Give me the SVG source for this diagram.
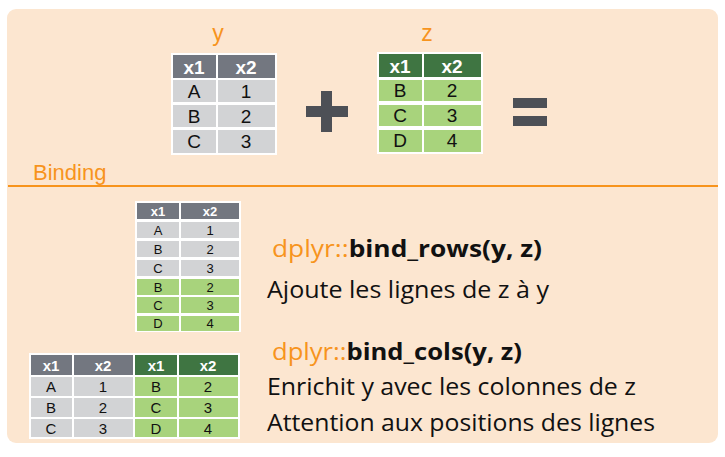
<svg xmlns="http://www.w3.org/2000/svg" width="725" height="457" viewBox="0 0 725 457">
<style>
.h{fill:#737780}.hg{fill:#3f7542}.c{fill:#d2d3d5}.g{fill:#a8d37c}
.t{font-family:"Liberation Sans",Arial,sans-serif;text-anchor:middle;fill:#111}
.tb{font-family:"Liberation Sans",Arial,sans-serif;text-anchor:middle;fill:#fff;font-weight:bold}
.o{font-family:"Liberation Sans",Arial,sans-serif;fill:#f7941d}
.s{font-family:"Open Sans","Liberation Sans",sans-serif;font-size:23px;fill:#111}
</style>
<rect width="725" height="457" fill="#fff"/>
<rect x="7" y="9" width="711" height="434" rx="9" fill="#fce6d0"/>
<line x1="8" y1="186" x2="718" y2="186" stroke="#f7941d" stroke-width="2"/>
<text class="o" x="218" y="41" font-size="23" text-anchor="middle">y</text>
<text class="o" x="427" y="41" font-size="23" text-anchor="middle">z</text>
<text class="o" x="33" y="180" font-size="22">Binding</text>
<g id="table-y">
<rect x="171" y="53" width="106" height="102" fill="#fff"/>
<rect class="h" x="173" y="55" width="43" height="23"/><rect class="h" x="218" y="55" width="57" height="23"/>
<rect class="c" x="173" y="80" width="43" height="22"/><rect class="c" x="218" y="80" width="57" height="22"/>
<rect class="c" x="173" y="105" width="43" height="22"/><rect class="c" x="218" y="105" width="57" height="22"/>
<rect class="c" x="173" y="130" width="43" height="23"/><rect class="c" x="218" y="130" width="57" height="23"/>
<g font-size="19"><text class="tb" x="194" y="74">x1</text><text class="tb" x="246" y="74">x2</text>
<text class="t" x="194" y="98">A</text><text class="t" x="246" y="98">1</text>
<text class="t" x="194" y="123">B</text><text class="t" x="246" y="123">2</text>
<text class="t" x="194" y="148">C</text><text class="t" x="246" y="148">3</text></g>
</g>
<g id="table-z">
<rect x="377" y="52" width="106" height="102" fill="#fff"/>
<rect class="hg" x="379" y="54" width="43" height="23"/><rect class="hg" x="424" y="54" width="57" height="23"/>
<rect class="g" x="379" y="80" width="43" height="21"/><rect class="g" x="424" y="80" width="57" height="21"/>
<rect class="g" x="379" y="105" width="43" height="21"/><rect class="g" x="424" y="105" width="57" height="21"/>
<rect class="g" x="379" y="130" width="43" height="22"/><rect class="g" x="424" y="130" width="57" height="22"/>
<g font-size="19"><text class="tb" x="400" y="73">x1</text><text class="tb" x="452" y="73">x2</text>
<text class="t" x="400" y="97">B</text><text class="t" x="452" y="97">2</text>
<text class="t" x="400" y="122">C</text><text class="t" x="452" y="122">3</text>
<text class="t" x="400" y="147">D</text><text class="t" x="452" y="147">4</text></g>
</g>
<g id="plus" fill="#4d5056"><rect x="306" y="106" width="42" height="11"/><rect x="321" y="91" width="11" height="41"/></g>
<g id="equals" fill="#4d5056"><rect x="513" y="98" width="34" height="10"/><rect x="513" y="116" width="34" height="10"/></g>
<g id="bind-rows-table" font-size="13">
<rect x="135" y="201" width="106" height="131" fill="#fff"/>
<rect class="h" x="137" y="203" width="42" height="16"/><rect class="h" x="181" y="203" width="58" height="16"/>
<rect class="c" x="137" y="222" width="42" height="16"/><rect class="c" x="181" y="222" width="58" height="16"/>
<rect class="c" x="137" y="241" width="42" height="16"/><rect class="c" x="181" y="241" width="58" height="16"/>
<rect class="c" x="137" y="260" width="42" height="16"/><rect class="c" x="181" y="260" width="58" height="16"/>
<rect class="g" x="137" y="279" width="42" height="16"/><rect class="g" x="181" y="279" width="58" height="16"/>
<rect class="g" x="137" y="297" width="42" height="16"/><rect class="g" x="181" y="297" width="58" height="16"/>
<rect class="g" x="137" y="316" width="42" height="15"/><rect class="g" x="181" y="316" width="58" height="15"/>
<text class="tb" x="158" y="216">x1</text><text class="tb" x="210" y="216">x2</text>
<text class="t" x="158" y="235">A</text><text class="t" x="210" y="235">1</text>
<text class="t" x="158" y="254">B</text><text class="t" x="210" y="254">2</text>
<text class="t" x="158" y="273">C</text><text class="t" x="210" y="273">3</text>
<text class="t" x="158" y="292">B</text><text class="t" x="210" y="292">2</text>
<text class="t" x="158" y="310">C</text><text class="t" x="210" y="310">3</text>
<text class="t" x="158" y="328">D</text><text class="t" x="210" y="328">4</text>
</g>
<g id="bind-cols-table" font-size="15">
<rect x="29" y="353" width="211" height="86" fill="#fff"/>
<rect class="h" x="31" y="355" width="41" height="20"/><rect class="h" x="74" y="355" width="59" height="20"/>
<rect class="hg" x="135" y="355" width="42" height="20"/><rect class="hg" x="179" y="355" width="59" height="20"/>
<rect class="c" x="31" y="377" width="41" height="19"/><rect class="c" x="74" y="377" width="59" height="19"/>
<rect class="g" x="135" y="377" width="42" height="19"/><rect class="g" x="179" y="377" width="59" height="19"/>
<rect class="c" x="31" y="398" width="41" height="19"/><rect class="c" x="74" y="398" width="59" height="19"/>
<rect class="g" x="135" y="398" width="42" height="19"/><rect class="g" x="179" y="398" width="59" height="19"/>
<rect class="c" x="31" y="419" width="41" height="18"/><rect class="c" x="74" y="419" width="59" height="18"/>
<rect class="g" x="135" y="419" width="42" height="18"/><rect class="g" x="179" y="419" width="59" height="18"/>
<text class="tb" x="51" y="371">x1</text><text class="tb" x="103" y="371">x2</text><text class="tb" x="156" y="371">x1</text><text class="tb" x="208" y="371">x2</text>
<text class="t" x="51" y="392">A</text><text class="t" x="103" y="392">1</text><text class="t" x="156" y="392">B</text><text class="t" x="208" y="392">2</text>
<text class="t" x="51" y="413">B</text><text class="t" x="103" y="413">2</text><text class="t" x="156" y="413">C</text><text class="t" x="208" y="413">3</text>
<text class="t" x="51" y="434">C</text><text class="t" x="103" y="434">3</text><text class="t" x="156" y="434">D</text><text class="t" x="208" y="434">4</text>
</g>
<g id="labels">
<text x="272" y="257" font-family="Open Sans, Liberation Sans, sans-serif" font-size="24" textLength="270" lengthAdjust="spacingAndGlyphs"><tspan fill="#f7941d">dplyr::</tspan><tspan font-weight="bold" fill="#111">bind_rows(y, z)</tspan></text>
<text class="s" x="267" y="298" textLength="282" lengthAdjust="spacingAndGlyphs">Ajoute les lignes de z à y</text>
<text x="272" y="360" font-family="Open Sans, Liberation Sans, sans-serif" font-size="24" textLength="250" lengthAdjust="spacingAndGlyphs"><tspan fill="#f7941d">dplyr::</tspan><tspan font-weight="bold" fill="#111">bind_cols(y, z)</tspan></text>
<text class="s" x="267" y="395" textLength="369" lengthAdjust="spacingAndGlyphs">Enrichit y avec les colonnes de z</text>
<text class="s" x="267" y="431" textLength="388" lengthAdjust="spacingAndGlyphs">Attention aux positions des lignes</text>
</g>
</svg>
